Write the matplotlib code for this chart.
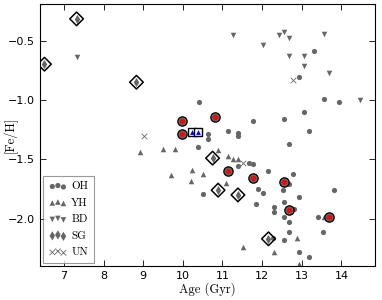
import matplotlib
matplotlib.use("Agg")
import matplotlib.pyplot as plt

# ages (Gyr) and [Fe/H] per population
oh_age = [10.41, 13.31, 12.92, 13.57, 13.95, 13.06, 12.54, 11.78, 11.14, 11.39, 11.39,
          10.63, 10.63, 13.17, 12.67, 10.37, 11.66, 11.78, 11.39, 12.16, 12.79, 12.67,
          11.90, 12.53, 13.81, 10.50, 12.02, 12.92, 11.85, 12.30, 12.30, 12.54, 12.80,
          12.54, 12.67, 13.41, 13.53, 12.67, 12.28, 12.54, 12.92, 13.18]
oh_feh = [-1.02, -0.585, -0.81, -0.99, -1.02, -1.10, -1.16, -1.18, -1.26, -1.28, -1.30,
          -1.29, -1.33, -1.26, -1.37, -1.40, -1.53, -1.54, -1.56, -1.595, -1.62, -1.705,
          -1.75, -1.76, -1.76, -1.79, -1.78, -1.815, -1.88, -1.90, -1.945, -1.86, -1.92,
          -1.99, -2.03, -1.99, -2.11, -2.11, -2.16, -2.18, -2.28, -2.32]

yh_age = [8.91, 9.50, 9.80, 9.71, 10.24, 10.21, 10.51, 10.88, 11.13, 11.26, 11.38,
          11.10, 11.52, 12.29, 12.89, 12.92, 13.55]
yh_feh = [-1.437, -1.41, -1.41, -1.63, -1.59, -1.685, -1.62, -1.42, -1.475, -1.50, -1.50,
          -1.70, -2.24, -2.28, -2.16, -2.38, -1.99]

bd_age = [7.32, 11.26, 12.03, 12.42, 12.55, 12.67, 12.67, 13.06, 13.06, 13.57, 13.69, 14.46]
bd_feh = [-0.64, -0.45, -0.54, -0.45, -0.43, -0.48, -0.63, -0.63, -0.71, -0.44, -0.77, -1.00]

sg_age = [7.32, 6.51, 8.83, 10.75, 10.89, 11.39, 12.16]
sg_feh = [-0.316, -0.698, -0.85, -1.49, -1.76, -1.80, -2.17]

un_age = [9.02, 11.53, 12.77]
un_feh = [-1.30, -1.535, -0.83]

# highlighted OH clusters (red) and YH clusters (blue)
red_age = [9.98, 9.98, 10.80, 11.14, 11.78, 12.54, 12.67, 13.69]
red_feh = [-1.18, -1.29, -1.14, -1.60, -1.655, -1.69, -1.93, -1.985]
blue_age = [10.22, 10.37]
blue_feh = [-1.27, -1.27]

grey = '0.4'
serif = 'cmr10'

plt.rcParams['xtick.direction'] = 'in'
plt.rcParams['ytick.direction'] = 'in'
plt.rcParams['xtick.top'] = True
plt.rcParams['ytick.right'] = True
plt.rcParams['axes.unicode_minus'] = True

fig = plt.figure(figsize=(3.82, 3.0), dpi=100)
ax = fig.add_axes([0.105, 0.113, 0.877, 0.874])

ax.scatter(oh_age, oh_feh, s=14, c=grey, marker='o', lw=0, label='OH')
ax.scatter(yh_age, yh_feh, s=16, c=grey, marker='^', lw=0, label='YH')
ax.scatter(bd_age, bd_feh, s=16, c=grey, marker='v', lw=0, label='BD')
ax.scatter(sg_age, sg_feh, s=22, c=grey, marker='d', lw=0, label='SG')
ax.scatter(un_age, un_feh, s=16, c=grey, marker='x', lw=0.6, label='UN')

# highlight rings
ax.scatter(sg_age, sg_feh, s=48, facecolors='none', edgecolors='k', marker='D', lw=1.1, zorder=3)
ax.scatter(red_age, red_feh, s=45, facecolors=grey, edgecolors='k', marker='o', lw=0.9, zorder=3)
ax.scatter(red_age, red_feh, s=14, c='red', marker='o', lw=0, zorder=4)
ax.scatter(blue_age, blue_feh, s=38, facecolors='white', edgecolors='k', marker='s', lw=1.0, zorder=3)
ax.scatter(blue_age, blue_feh, s=12, c='blue', marker='^', lw=0, zorder=4)

ax.set_xlim(6.4, 14.85)
ax.set_ylim(-2.4, -0.19)
ax.set_xticks([7, 8, 9, 10, 11, 12, 13, 14])
ax.set_yticks([-2.0, -1.5, -1.0, -0.5])
ax.tick_params(labelsize=8, length=4, width=0.6)
for sp in ax.spines.values():
    sp.set_linewidth(0.8)

ax.set_xlabel('Age (Gyr)', fontfamily=serif, fontsize=9, labelpad=1)
ax.set_ylabel('[Fe/H]', fontfamily=serif, fontsize=9)
ax.yaxis.set_label_coords(-0.068, 0.5)

leg = ax.legend(loc='lower left', scatterpoints=3, prop={'family': serif, 'size': 8},
                fancybox=False, handletextpad=0.4, borderpad=0.5, labelspacing=0.6,
                handlelength=1.6, borderaxespad=0.3)
leg.get_frame().set_edgecolor('0.5')
leg.get_frame().set_linewidth(0.8)

fig.savefig('out.png', dpi=100)
